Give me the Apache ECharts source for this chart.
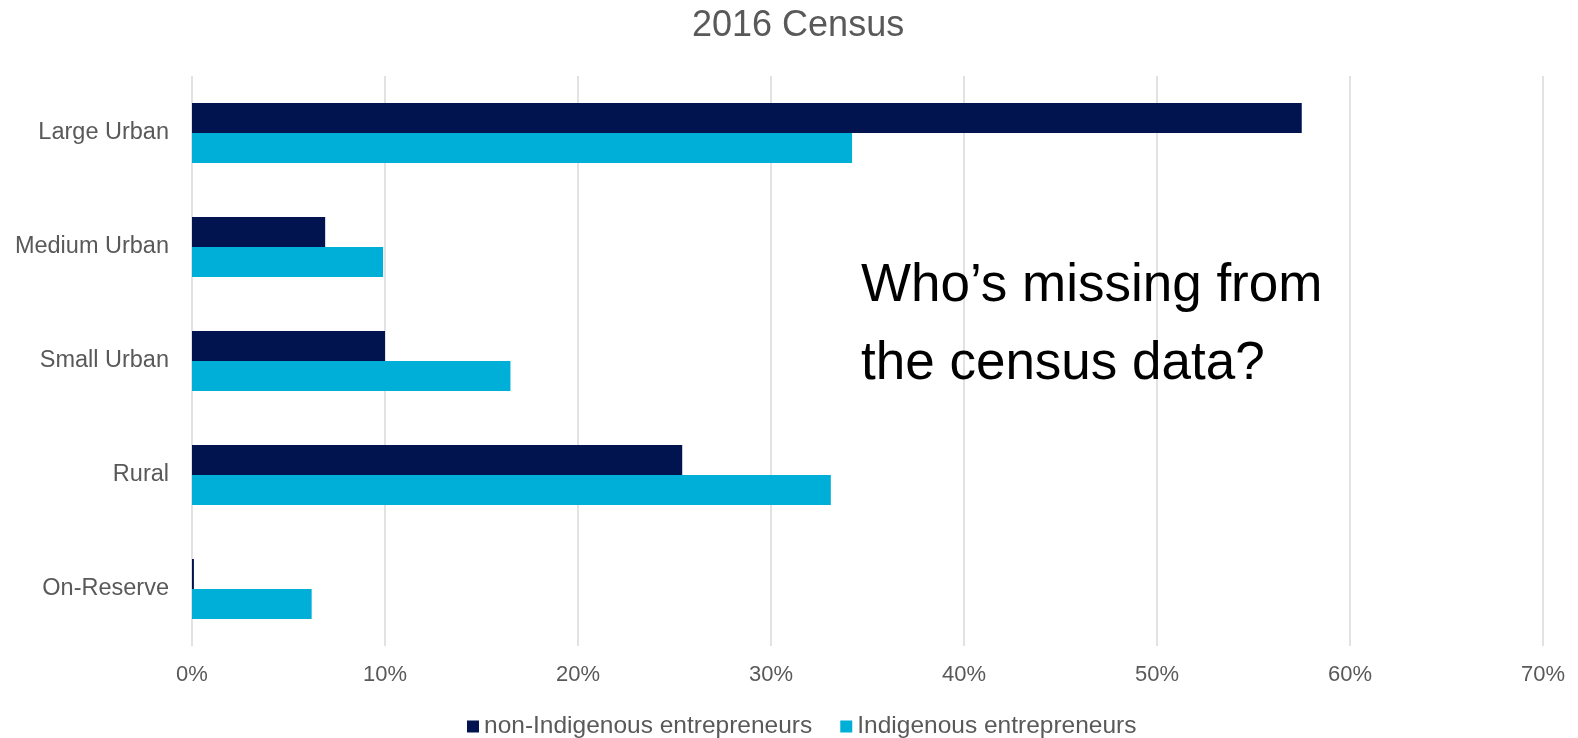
<!DOCTYPE html>
<html>
<head>
<meta charset="utf-8">
<script src="https://cdn.jsdelivr.net/npm/echarts@6/dist/echarts.min.js"></script>
<style>
html,body{margin:0;padding:0;background:#fff;}
#c{width:1578px;height:738px;}
</style>
</head>
<body>
<div id="c"></div>
<script>
const categories = ['Large Urban', 'Medium Urban', 'Small Urban', 'Rural', 'On-Reserve'];
const nonIndigenous = [57.5, 6.9, 10.0, 25.4, 0.1];
const indigenous = [34.2, 9.9, 16.5, 33.1, 6.2];
const xTicks = [0, 10, 20, 30, 40, 50, 60, 70];
const seriesNames = ['non-Indigenous entrepreneurs', 'Indigenous entrepreneurs'];
const titleText = '2016 Census';
const noteLines = ['Who\u2019s missing from', 'the census data?'];

const FONT = '"Liberation Sans", Arial, sans-serif';
const chart = echarts.init(document.getElementById('c'));
chart.setOption({
  animation: false,
  backgroundColor: '#fff',
  title: {
    text: titleText,
    left: 687,
    top: 3,
    textStyle: { fontFamily: FONT, fontSize: 36, fontWeight: 'normal', color: '#595959' }
  },
  legend: {
    data: seriesNames,
    left: 462,
    bottom: -6,
    itemWidth: 12,
    itemHeight: 12,
    itemGap: 28,
    icon: 'rect',
    textStyle: { fontFamily: FONT, fontSize: 24.5, color: '#595959' }
  },
  grid: { left: 192, right: 35, top: 76, bottom: 92, containLabel: false },
  xAxis: {
    type: 'value',
    min: xTicks[0],
    max: xTicks[xTicks.length - 1],
    interval: 10,
    axisLine: { show: false },
    axisTick: { show: false },
    splitLine: { show: true, lineStyle: { color: '#d9d9d9', width: 1.5 } },
    axisLabel: { formatter: '{value}%', fontFamily: FONT, fontSize: 22, color: '#595959', margin: 18 }
  },
  yAxis: {
    type: 'category',
    data: categories,
    inverse: true,
    axisLine: { show: false },
    axisTick: { show: false },
    axisLabel: { fontFamily: FONT, fontSize: 23.5, color: '#595959', margin: 23 }
  },
  series: [
    { name: seriesNames[0], type: 'bar', data: nonIndigenous, barWidth: 30, barGap: '0%',
      itemStyle: { color: '#021450' } },
    { name: seriesNames[1], type: 'bar', data: indigenous, barWidth: 30, barGap: '0%',
      itemStyle: { color: '#00AFD7' } }
  ],
  graphic: [
    { type: 'text', left: 861, top: 247, z: 10,
      style: { text: noteLines.join('\n'), fontFamily: FONT, fontSize: 53, lineHeight: 78, fill: '#000' } }
  ]
});
</script>
</body>
</html>
